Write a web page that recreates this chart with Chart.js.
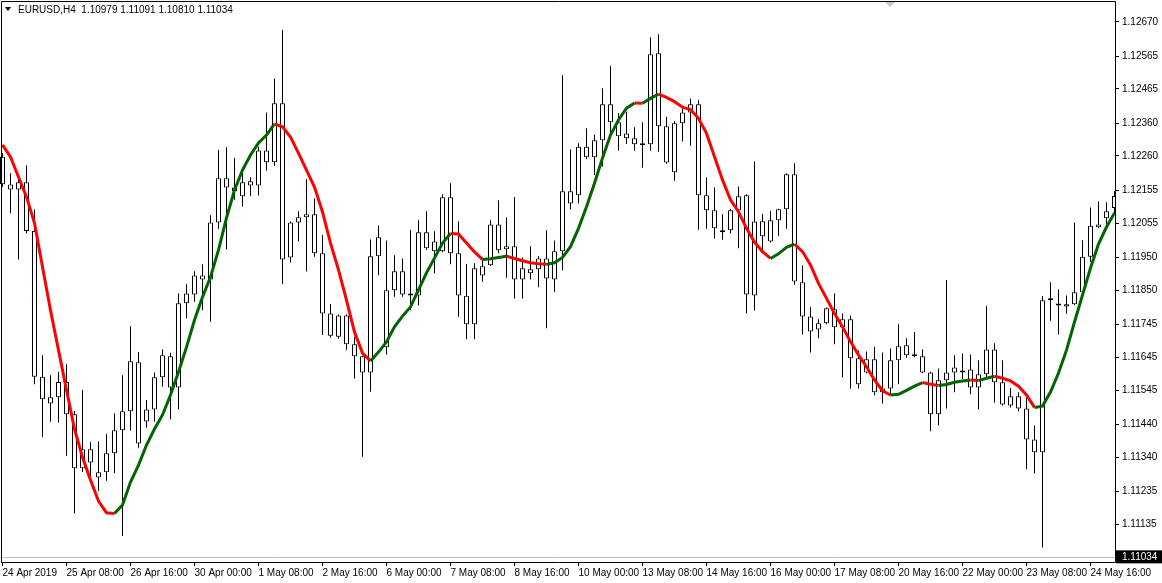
<!DOCTYPE html>
<html>
<head>
<meta charset="utf-8">
<title>EURUSD,H4</title>
<script src="https://cdn.jsdelivr.net/npm/chart.js@4.4.1/dist/chart.umd.min.js"></script>
<style>
  html, body { margin: 0; padding: 0; background: #fff; }
  #wrap { position: relative; width: 1162px; height: 583px; overflow: hidden; }
  #chart { position: absolute; left: 0; top: 0; }
  #header { position: absolute; left: 18px; top: 4px; font: 10px "Liberation Sans", Arial, sans-serif; line-height: 12px; color: #000; white-space: pre; }
  #arrow { position: absolute; left: 5px; top: 7px; width: 0; height: 0; border-left: 3px solid transparent; border-right: 3px solid transparent; border-top: 4px solid #000; }
</style>
</head>
<body>
<div id="wrap">
  <canvas id="chart" width="1162" height="583"></canvas>
  <div id="arrow"></div>
  <div id="header">EURUSD,H4  1.10979 1.11091 1.10810 1.11034</div>
</div>
<script>
// EURUSD H4 candles (one entry per bar, oldest first)
const opens = [1.12258,1.12173,1.12158,1.12180,1.12031,1.11586,1.11523,1.11523,1.11570,1.11471,
  1.11306,1.11364,1.11294,1.11294,1.11352,1.11422,1.11480,1.11630,1.11449,1.11486,
  1.11584,1.11648,1.11553,1.11810,1.11837,1.11895,1.11883,1.12057,1.12192,1.12164,
  1.12137,1.12170,1.12170,1.12277,1.12241,1.12421,1.11950,1.12057,1.12073,1.12082,
  1.11963,1.11779,1.11708,1.11773,1.11685,1.11648,1.11599,1.11954,1.11850,1.11850,
  1.11908,1.11837,1.11834,1.12027,1.11969,1.11969,1.12134,1.11963,1.11833,1.11746,
  1.11895,1.11926,1.12051,1.11975,1.11984,1.11883,1.11914,1.11914,1.11947,1.11883,
  1.11969,1.12152,1.12140,1.12288,1.12256,1.12308,1.12418,1.12363,1.12329,1.12314,
  1.12296,1.12296,1.12574,1.12351,1.12210,1.12360,1.12393,1.12418,1.12140,1.12094,
  1.12033,1.12033,1.12094,1.12140,1.11834,1.12061,1.11999,1.12064,1.12097,1.12204,
  1.11874,1.11770,1.11730,1.11749,1.11792,1.11737,1.11761,1.11642,1.11599,1.11639,
  1.11538,1.11550,1.11636,1.11682,1.11654,1.11648,1.11599,1.11471,1.11575,1.11599,
  1.11605,1.11608,1.11553,1.11593,1.11669,1.11569,1.11498,1.11526,1.11489,1.11394,
  1.11355,1.11819,1.11805,1.11800,1.11807,1.11844,1.11952,1.12042,1.12070,1.12101];
const highs = [1.12269,1.12207,1.12187,1.12232,1.12097,1.11651,1.11590,1.11601,1.11624,1.11481,
  1.11545,1.11386,1.11389,1.11411,1.11474,1.11590,1.11740,1.11661,1.11515,1.11599,
  1.11669,1.11659,1.11840,1.11868,1.11908,1.11929,1.12079,1.12278,1.12287,1.12254,
  1.12211,1.12195,1.12288,1.12393,1.12497,1.12645,1.12060,1.12091,1.12189,1.12131,
  1.12019,1.11808,1.11776,1.11776,1.11708,1.11650,1.12005,1.12048,1.12002,1.11957,
  1.11947,1.12034,1.12064,1.12091,1.12030,1.12143,1.12177,1.12061,1.11930,1.11932,
  1.11942,1.12064,1.12125,1.12073,1.12135,1.11950,1.11984,1.11954,1.12033,1.12002,
  1.12507,1.12280,1.12299,1.12345,1.12326,1.12467,1.12535,1.12391,1.12395,1.12348,
  1.12363,1.12623,1.12632,1.12380,1.12366,1.12406,1.12436,1.12430,1.12195,1.12164,
  1.12082,1.12099,1.12167,1.12143,1.12244,1.12083,1.12092,1.12099,1.12207,1.12238,
  1.11926,1.11799,1.11761,1.11797,1.11840,1.11779,1.11773,1.11666,1.11663,1.11677,
  1.11660,1.11672,1.11746,1.11703,1.11722,1.11669,1.11601,1.11611,1.11881,1.11651,
  1.11657,1.11654,1.11636,1.11802,1.11688,1.11636,1.11551,1.11538,1.11521,1.11437,
  1.11832,1.11874,1.11853,1.11834,1.12056,1.12003,1.12103,1.12122,1.12119,1.12153];
const lows = [1.12165,1.12085,1.11944,1.12024,1.11563,1.11402,1.11448,1.11445,1.11344,1.11168,
  1.11295,1.11272,1.11237,1.11268,1.11292,1.11099,1.11421,1.11369,1.11430,1.11448,
  1.11555,1.11456,1.11486,1.11764,1.11815,1.11789,1.11754,1.12037,1.11975,1.12126,
  1.12105,1.12137,1.12139,1.12215,1.12230,1.11868,1.11935,1.11999,1.11907,1.11952,
  1.11713,1.11705,1.11702,1.11667,1.11580,1.11341,1.11540,1.11896,1.11654,1.11830,
  1.11830,1.11789,1.11804,1.11973,1.11902,1.11966,1.11929,1.11769,1.11700,1.11700,
  1.11876,1.11924,1.11963,1.11888,1.11825,1.11825,1.11883,1.11859,1.11734,1.11844,
  1.11911,1.12097,1.12115,1.12250,1.12202,1.12227,1.12329,1.12276,1.12297,1.12276,
  1.12224,1.12276,1.12273,1.12236,1.12184,1.12304,1.12291,1.12035,1.12038,1.12007,
  1.12004,1.12024,1.11978,1.11779,1.11788,1.11967,1.11996,1.12015,1.12038,1.11867,
  1.11715,1.11660,1.11703,1.11746,1.11685,1.11583,1.11550,1.11550,1.11596,1.11529,
  1.11504,1.11529,1.11563,1.11644,1.11645,1.11596,1.11419,1.11437,1.11489,1.11538,
  1.11579,1.11532,1.11486,1.11582,1.11506,1.11498,1.11492,1.11480,1.11303,1.11291,
  1.11064,1.11757,1.11715,1.11778,1.11805,1.11826,1.11936,1.12040,1.12049,1.12085];
const closes = [1.12174,1.12158,1.12180,1.12031,1.11586,1.11517,1.11504,1.11570,1.11471,1.11306,
  1.11364,1.11324,1.11278,1.11352,1.11422,1.11480,1.11633,1.11382,1.11486,1.11584,
  1.11651,1.11553,1.11810,1.11840,1.11895,1.11883,1.12057,1.12192,1.12164,1.12152,
  1.12180,1.12183,1.12277,1.12241,1.12421,1.11944,1.12057,1.12073,1.12082,1.11963,
  1.11779,1.11711,1.11773,1.11685,1.11648,1.11599,1.11954,1.12012,1.11676,1.11908,
  1.11837,1.11834,1.12027,1.11978,1.11999,1.12134,1.11963,1.11834,1.11746,1.11917,
  1.11923,1.12051,1.11972,1.11984,1.11883,1.11917,1.11902,1.11947,1.11886,1.11969,
  1.12152,1.12115,1.12288,1.12256,1.12308,1.12418,1.12363,1.12320,1.12314,1.12296,
  1.12293,1.12571,1.12351,1.12240,1.12360,1.12393,1.12418,1.12140,1.12094,1.12039,
  1.12027,1.12094,1.12137,1.11837,1.12060,1.12015,1.12064,1.12097,1.12204,1.11877,
  1.11770,1.11724,1.11749,1.11795,1.11737,1.11761,1.11642,1.11563,1.11639,1.11538,
  1.11550,1.11636,1.11679,1.11651,1.11648,1.11599,1.11471,1.11575,1.11599,1.11614,
  1.11599,1.11553,1.11593,1.11669,1.11569,1.11501,1.11526,1.11489,1.11394,1.11355,
  1.11819,1.11819,1.11803,1.11807,1.11844,1.11952,1.12047,1.12051,1.12091,1.12138];
// smoothed moving average, red while falling, green while rising
const maValues = [1.12294,1.12257,1.12196,1.12135,1.12055,1.11921,1.11789,1.11667,1.11545,1.11426,
  1.11340,1.11270,1.11206,1.11170,1.11168,1.11194,1.11264,1.11316,1.11377,1.11426,
  1.11469,1.11530,1.11600,1.11676,1.11759,1.11829,1.11890,1.11973,1.12071,1.12156,
  1.12217,1.12263,1.12300,1.12324,1.12358,1.12349,1.12318,1.12269,1.12217,1.12165,
  1.12089,1.11994,1.11912,1.11820,1.11722,1.11658,1.11634,1.11661,1.11692,1.11738,
  1.11771,1.11799,1.11851,1.11903,1.11948,1.11994,1.12023,1.12022,1.11994,1.11967,
  1.11944,1.11946,1.11950,1.11954,1.11947,1.11940,1.11934,1.11931,1.11929,1.11934,
  1.11950,1.11983,1.12039,1.12105,1.12177,1.12254,1.12324,1.12370,1.12406,1.12422,
  1.12421,1.12436,1.12449,1.12439,1.12426,1.12409,1.12402,1.12375,1.12329,1.12258,
  1.12187,1.12126,1.12090,1.12039,1.11997,1.11968,1.11947,1.11961,1.11981,1.11991,
  1.11968,1.11927,1.11871,1.11825,1.11779,1.11738,1.11693,1.11652,1.11616,1.11576,
  1.11543,1.11530,1.11532,1.11544,1.11557,1.11568,1.11563,1.11559,1.11562,1.11569,
  1.11573,1.11576,1.11574,1.11581,1.11587,1.11581,1.11573,1.11557,1.11530,1.11492,
  1.11496,1.11539,1.11597,1.11667,1.11753,1.11835,1.11918,1.11991,1.12043,1.12086];

const xTickBars = [0,8,16,24,32,40,48,56,64,72,80,88,96,104,112,120,128,136];
const xTickLabels = ["24 Apr 2019","25 Apr 08:00","26 Apr 16:00","30 Apr 00:00","1 May 08:00","2 May 16:00",
  "6 May 00:00","7 May 08:00","8 May 16:00","10 May 00:00","13 May 08:00","14 May 16:00",
  "16 May 00:00","17 May 08:00","20 May 16:00","22 May 00:00","23 May 08:00","24 May 16:00"];
const priceTicks = [1.12670,1.12565,1.12465,1.12360,1.12260,1.12155,1.12055,1.11950,1.11850,
  1.11745,1.11645,1.11545,1.11440,1.11340,1.11235,1.11135];
const bidPrice = 1.11034;

const RED = '#ff0000';
const GREEN = '#006400';
const FONT = '"Liberation Sans", Arial, sans-serif';

let bodies = closes.map((c, i) => ({x: i, y: [opens[i], c]}));
let wicks = highs.map((h, i) => ({x: i, y: [lows[i], h]}));
let maPoints = maValues.map((v, i) => ({x: i, y: v}));

const isBid = c => c.tick && c.tick.value === bidPrice;

// chart window frame and the little shift marker at the top
const framePlugin = {
  id: 'frame',
  afterDraw(chart) {
    const ctx = chart.ctx;
    const a = chart.chartArea;
    ctx.save();
    ctx.strokeStyle = '#000';
    ctx.lineWidth = 1;
    ctx.beginPath();
    ctx.moveTo(a.left + 1.5, a.bottom + 0.5);
    ctx.lineTo(a.left + 1.5, a.top + 1.5);
    ctx.lineTo(a.right + 0.5, a.top + 1.5);
    ctx.lineTo(a.right + 0.5, a.bottom + 0.5);
    ctx.lineTo(a.left + 1.5, a.bottom + 0.5);
    ctx.stroke();
    ctx.fillStyle = '#c8c8c8';
    ctx.beginPath();
    ctx.moveTo(885, 2);
    ctx.lineTo(895, 2);
    ctx.lineTo(890, 7);
    ctx.closePath();
    ctx.fill();
    ctx.restore();
  }
};

Chart.defaults.font.family = FONT;
Chart.defaults.font.size = 10;
Chart.defaults.color = '#000';

let chart = new Chart(document.getElementById('chart').getContext('2d'), {
  type: 'bar',
  data: {
    datasets: [
      {
        type: 'line',
        label: 'MA',
        data: maPoints,
        order: 0,
        borderWidth: 3,
        borderColor: GREEN,
        pointRadius: 0,
        tension: 0,
        clip: 0,
        segment: {
          borderColor: c => c.p1.parsed.y < c.p0.parsed.y ? RED : GREEN
        }
      },
      {
        label: 'body',
        data: bodies,
        order: 1,
        grouped: false,
        barThickness: 5,
        backgroundColor: '#fff',
        borderColor: '#000',
        borderWidth: 1,
        borderSkipped: false,
        inflateAmount: 0,
        minBarLength: 2,
        clip: 0
      },
      {
        label: 'wick',
        data: wicks,
        order: 2,
        grouped: false,
        barThickness: 1,
        backgroundColor: '#000',
        borderWidth: 0,
        inflateAmount: 0,
        clip: 0
      }
    ]
  },
  options: {
    responsive: false,
    devicePixelRatio: 1,
    animation: false,
    layout: { padding: 0 },
    plugins: {
      legend: { display: false },
      tooltip: { enabled: false }
    },
    scales: {
      x: {
        type: 'linear',
        min: -0.3125,
        max: 139.0625,
        offset: false,
        afterBuildTicks: s => { s.ticks = xTickBars.map(v => ({value: v})); },
        afterFit: s => { s.height = 21; s.paddingLeft = 0; s.paddingRight = 0; },
        border: { display: false },
        grid: { drawOnChartArea: false, offset: false, tickLength: 4, tickColor: '#000' },
        ticks: {
          autoSkip: false,
          maxRotation: 0,
          align: 'start',
          padding: 1,
          color: '#000',
          font: { family: FONT, size: 10 },
          callback: (v, i) => xTickLabels[i]
        }
      },
      y: {
        type: 'linear',
        position: 'right',
        min: 1.110198,
        max: 1.127365,
        afterBuildTicks: s => { s.ticks = priceTicks.concat([bidPrice]).map(v => ({value: v})); },
        afterFit: s => { s.width = 47; s.paddingTop = 0; s.paddingBottom = 0; },
        border: { display: false },
        grid: {
          color: c => isBid(c) ? '#c0c0c0' : 'rgba(0,0,0,0)',
          tickColor: '#000',
          tickLength: 4
        },
        ticks: {
          autoSkip: false,
          padding: 3,
          font: { family: FONT, size: 10 },
          color: c => isBid(c) ? '#fff' : '#000',
          showLabelBackdrop: c => isBid(c),
          backdropColor: '#000',
          backdropPadding: { top: 1, bottom: 0, left: 6, right: 8 },
          callback: v => v.toFixed(5)
        }
      }
    }
  },
  plugins: [framePlugin]
});
</script>
</body>
</html>
